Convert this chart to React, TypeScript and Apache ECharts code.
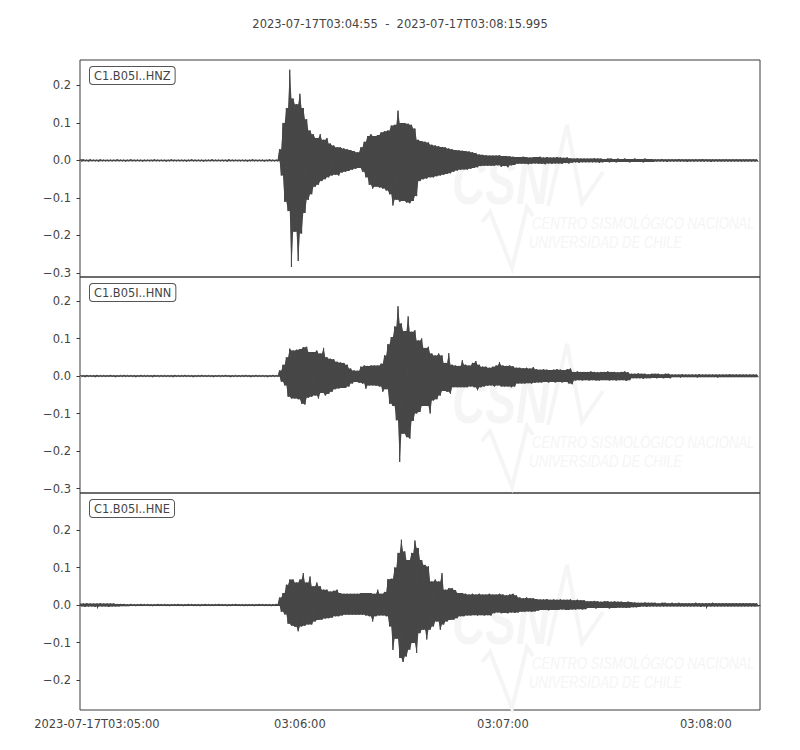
import { useEffect, useRef } from "react";
import * as echarts from "echarts";

const TITLE = "2023-07-17T03:04:55  -  2023-07-17T03:08:15.995";
const CHANNELS = ["C1.B05I..HNZ", "C1.B05I..HNN", "C1.B05I..HNE"];

// seconds after 2023-07-17T03:04:55
const X_MAX = 200.995;
const X_TICKS = [5, 65, 125, 185];
const X_TICK_LABELS = ["2023-07-17T03:05:00", "03:06:00", "03:07:00", "03:08:00"];

const Y_TICKS = [
  [-0.3, -0.2, -0.1, 0, 0.1, 0.2],
  [-0.3, -0.2, -0.1, 0, 0.1, 0.2],
  [-0.2, -0.1, 0, 0.1, 0.2],
];
const Y_MIN = [-0.3107, -0.312, -0.28];
const Y_MAX = [0.268, 0.264, 0.2987];

// envelope per 1-second bin (units of 0.001), read from the record
const HNZ_UP = [
  3, 3, 2, 3, 2, 2, 3, 2, 2, 2,
  2, 3, 2, 2, 2, 3, 2, 2, 2, 2,
  2, 2, 3, 2, 2, 2, 2, 3, 2, 2,
  2, 2, 2, 3, 2, 2, 2, 2, 2, 3,
  2, 2, 2, 2, 3, 2, 2, 2, 2, 2,
  2, 3, 2, 2, 2, 2, 3, 2, 2, 30,
  100, 140, 242, 165, 150, 178, 140, 110, 80, 70,
  60, 70, 55, 60, 45, 40, 35, 35, 32, 30,
  28, 25, 22, 35, 50, 65, 70, 65, 68, 75,
  78, 80, 93, 95, 133, 100, 100, 98, 95, 85,
  55, 52, 50, 48, 42, 40, 38, 36, 35, 32,
  30, 28, 27, 26, 25, 24, 22, 20, 16, 15,
  14, 13, 13, 13, 14, 12, 12, 11, 10, 9,
  9, 10, 9, 8, 9, 9, 10, 8, 9, 8,
  8, 9, 8, 7, 8, 6, 5, 6, 5, 5,
  5, 5, 6, 5, 5, 4, 5, 5, 4, 5,
  4, 5, 4, 4, 5, 4, 4, 5, 4, 4,
  3, 3, 4, 3, 3, 3, 3, 4, 3, 3,
  3, 3, 3, 3, 4, 3, 3, 3, 3, 3,
  3, 3, 3, 3, 3, 3, 3, 3, 3, 3, 3,
];
const HNZ_LO = [
  -3, -2, -3, -2, -2, -3, -2, -2, -2, -2,
  -2, -2, -2, -3, -2, -2, -2, -2, -3, -2,
  -2, -2, -2, -2, -2, -3, -2, -2, -2, -2,
  -2, -3, -2, -2, -2, -2, -3, -2, -2, -2,
  -2, -2, -2, -3, -2, -2, -2, -2, -2, -3,
  -2, -2, -2, -2, -3, -2, -2, -2, -2, -40,
  -110, -135, -284, -190, -268, -195, -140, -105, -90, -70,
  -65, -55, -50, -45, -40, -38, -40, -32, -30, -28,
  -25, -22, -20, -30, -45, -65, -75, -70, -72, -75,
  -80, -90, -120, -105, -110, -108, -112, -114, -108, -95,
  -55, -50, -48, -45, -45, -42, -40, -38, -36, -34,
  -30, -27, -25, -24, -24, -22, -20, -18, -15, -14,
  -14, -14, -14, -13, -17, -15, -18, -13, -12, -9,
  -9, -9, -10, -9, -8, -9, -9, -10, -8, -9,
  -8, -8, -9, -7, -8, -6, -5, -6, -5, -5,
  -5, -5, -5, -6, -5, -4, -5, -4, -5, -4,
  -4, -4, -5, -4, -4, -4, -5, -4, -4, -4,
  -3, -3, -3, -4, -3, -3, -3, -3, -3, -4,
  -3, -3, -3, -3, -3, -3, -4, -3, -3, -3,
  -3, -3, -3, -3, -3, -3, -3, -3, -3, -3, -3,
];

const HNN_UP = [
  3, 2, 3, 2, 2, 3, 2, 2, 2, 3,
  2, 2, 2, 3, 2, 2, 2, 2, 3, 2,
  2, 2, 3, 2, 2, 2, 2, 2, 3, 2,
  2, 3, 2, 2, 2, 2, 3, 2, 2, 2,
  2, 2, 2, 3, 2, 2, 2, 2, 2, 3,
  2, 2, 3, 2, 2, 2, 2, 3, 2, 15,
  30, 50, 73, 68, 70, 72, 77, 78, 64, 64,
  68, 60, 75, 50, 46, 45, 38, 36, 35, 30,
  20, 15, 14, 25, 28, 27, 28, 28, 28, 33,
  55, 85, 104, 132, 186, 140, 120, 159, 118, 122,
  95, 100, 75, 78, 60, 55, 60, 55, 35, 61,
  30, 28, 27, 42, 30, 28, 35, 40, 30, 25,
  25, 22, 25, 28, 37, 28, 27, 28, 26, 22,
  22, 21, 22, 20, 24, 18, 17, 18, 17, 16,
  17, 18, 17, 16, 18, 20, 11, 12, 11, 11,
  11, 12, 11, 10, 11, 11, 12, 11, 11, 10,
  11, 12, 10, 6, 6, 7, 6, 6, 5, 6,
  6, 6, 5, 6, 6, 4, 4, 4, 5, 4,
  4, 4, 4, 5, 4, 4, 4, 4, 4, 4,
  4, 4, 5, 4, 4, 4, 4, 4, 4, 4, 4,
];
const HNN_LO = [
  -2, -3, -2, -2, -3, -2, -2, -2, -2, -2,
  -3, -2, -2, -2, -2, -2, -3, -2, -2, -2,
  -2, -3, -2, -2, -2, -2, -2, -3, -2, -2,
  -2, -2, -2, -3, -2, -2, -2, -2, -2, -3,
  -2, -2, -2, -2, -3, -2, -2, -2, -2, -2,
  -3, -2, -2, -2, -2, -3, -2, -2, -2, -15,
  -25, -55, -60, -60, -62, -74, -76, -58, -55, -52,
  -60, -45, -52, -48, -42, -35, -33, -32, -32, -28,
  -20, -16, -18, -20, -34, -25, -25, -26, -28, -42,
  -35, -74, -80, -118, -229, -154, -163, -167, -120, -100,
  -96, -80, -80, -100, -65, -62, -52, -40, -42, -47,
  -30, -30, -30, -30, -30, -28, -30, -38, -30, -28,
  -26, -25, -28, -25, -28, -28, -28, -30, -28, -20,
  -20, -20, -19, -20, -18, -17, -17, -16, -17, -16,
  -17, -16, -17, -16, -20, -22, -12, -11, -12, -11,
  -12, -11, -12, -12, -11, -11, -12, -11, -12, -11,
  -11, -13, -11, -6, -6, -6, -7, -6, -6, -5,
  -6, -5, -6, -5, -6, -3, -3, -4, -3, -3,
  -3, -3, -4, -3, -3, -3, -3, -3, -4, -3,
  -3, -3, -3, -3, -3, -3, -3, -3, -3, -3, -3,
];

const HNE_UP = [
  4, 4, 5, 4, 4, 4, 5, 4, 4, 4,
  4, 3, 3, 3, 2, 3, 2, 2, 3, 2,
  2, 2, 2, 3, 2, 2, 2, 2, 2, 3,
  2, 2, 3, 2, 2, 2, 2, 3, 2, 2,
  2, 3, 2, 2, 2, 2, 3, 2, 2, 2,
  2, 2, 2, 3, 2, 2, 2, 2, 3, 20,
  32, 54, 68, 68, 60, 68, 85, 60, 76, 50,
  60, 50, 41, 41, 36, 38, 41, 32, 30, 30,
  30, 30, 30, 32, 32, 32, 32, 30, 41, 30,
  35, 69, 70, 100, 139, 174, 143, 120, 139, 172,
  152, 120, 107, 103, 63, 68, 63, 85, 41, 45,
  45, 40, 32, 32, 30, 28, 30, 28, 30, 28,
  28, 30, 28, 28, 30, 28, 26, 28, 30, 26,
  20, 18, 20, 18, 18, 16, 15, 15, 16, 14,
  15, 14, 15, 14, 14, 15, 13, 14, 13, 13,
  10, 10, 11, 10, 9, 10, 10, 9, 10, 9,
  9, 8, 9, 8, 7, 6, 6, 7, 6, 6,
  6, 5, 6, 6, 5, 6, 5, 6, 5, 5,
  5, 5, 6, 5, 5, 5, 5, 6, 5, 5,
  5, 5, 5, 5, 5, 5, 5, 5, 5, 5, 5,
];
const HNE_LO = [
  -4, -5, -4, -4, -5, -4, -4, -4, -5, -4,
  -4, -4, -3, -3, -3, -2, -3, -2, -2, -2,
  -2, -3, -2, -2, -2, -2, -3, -2, -2, -2,
  -3, -2, -2, -2, -2, -3, -2, -2, -2, -2,
  -2, -2, -2, -3, -2, -2, -2, -2, -3, -2,
  -2, -3, -2, -2, -2, -2, -3, -2, -2, -18,
  -25, -50, -55, -58, -70, -57, -55, -52, -52, -44,
  -40, -39, -36, -35, -34, -30, -30, -28, -26, -26,
  -26, -26, -26, -26, -28, -30, -44, -30, -28, -28,
  -30, -57, -120, -90, -141, -152, -137, -119, -101, -128,
  -75, -66, -92, -66, -57, -44, -66, -52, -44, -40,
  -39, -35, -30, -30, -28, -28, -27, -28, -27, -28,
  -27, -28, -22, -20, -22, -21, -22, -20, -21, -20,
  -18, -18, -17, -18, -17, -15, -13, -13, -14, -13,
  -13, -13, -12, -13, -13, -12, -12, -11, -12, -11,
  -8, -8, -9, -8, -8, -8, -9, -8, -8, -7,
  -7, -8, -7, -6, -6, -5, -4, -5, -4, -4,
  -4, -4, -4, -4, -4, -4, -4, -4, -4, -4,
  -4, -4, -4, -5, -4, -4, -4, -4, -4, -4,
  -4, -4, -4, -4, -4, -4, -4, -4, -4, -4, -4,
];

const TRACES = [
  [HNZ_UP, HNZ_LO],
  [HNN_UP, HNN_LO],
  [HNE_UP, HNE_LO],
];

const FONT = "DejaVu Sans";
const TEXT = "#444444";
const FRAME = "#3a3a3a";
const WAVE = "#474747";
const WM = "#f5f5f5";

const GRID_TOPS = [60, 277, 493];
const GRID_HEIGHTS = [217, 216, 217];
const WM_OFFSETS = [0, 219, 440];

// each 1-second bin is drawn as one swing between its read extremes
function buildTrace(up: number[], lo: number[]): [number, number][] {
  const pts: [number, number][] = [];
  for (let i = 0; i < up.length; i++) {
    pts.push([i, up[i] / 1000]);
    pts.push([i + 0.5, lo[i] / 1000]);
  }
  return pts;
}

function yLabel(v: number): string {
  if (Math.abs(v) < 1e-9) return "0.0";
  return v.toFixed(1).replace("-", "\u2212");
}

function watermark(dy: number): any[] {
  return [
    {
      type: "text",
      z: 1,
      silent: true,
      x: 452,
      y: 150 + dy,
      scaleX: 0.72,
      style: {
        text: "CSN",
        font: "italic bold 64px 'Liberation Sans'",
        fill: WM,
        verticalAlign: "top",
      },
    },
    {
      type: "polyline",
      z: 1,
      silent: true,
      shape: { points: [[548, 206 + dy], [567, 125 + dy], [582, 203 + dy], [603, 172 + dy]] },
      style: { stroke: WM, lineWidth: 4, fill: null },
    },
    {
      type: "polyline",
      z: 1,
      silent: true,
      shape: { points: [[482, 222 + dy], [490, 212 + dy], [512, 268 + dy], [527, 207 + dy], [533, 216 + dy]] },
      style: { stroke: WM, lineWidth: 4, fill: null },
    },
    {
      type: "text",
      z: 1,
      silent: true,
      x: 532,
      y: 214 + dy,
      scaleX: 0.77,
      style: {
        text: "CENTRO SISMOLÓGICO NACIONAL",
        font: "italic 17px 'Liberation Sans'",
        fill: WM,
        verticalAlign: "top",
      },
    },
    {
      type: "text",
      z: 1,
      silent: true,
      x: 529,
      y: 233 + dy,
      scaleX: 0.77,
      style: {
        text: "UNIVERSIDAD DE CHILE",
        font: "italic 17px 'Liberation Sans'",
        fill: WM,
        verticalAlign: "top",
      },
    },
  ];
}

export default function App() {
  const ref = useRef<HTMLDivElement>(null);

  useEffect(() => {
    if (!ref.current) return;
    const chart = echarts.init(ref.current, undefined, { renderer: "svg" });

    const grids = GRID_TOPS.map((top, i) => ({
      left: 80,
      top,
      width: 680,
      height: GRID_HEIGHTS[i],
      show: true,
      borderColor: FRAME,
      borderWidth: 1,
      backgroundColor: "transparent",
      containLabel: false,
    }));

    const xAxes = GRID_TOPS.map((_, i) => {
      const last = i === GRID_TOPS.length - 1;
      return {
        type: "value",
        gridIndex: i,
        min: 0,
        max: X_MAX,
        axisLine: { show: last, lineStyle: { color: FRAME, width: 1 } },
        splitLine: { show: false },
        axisTick: {
          show: last,
          customValues: X_TICKS,
          length: 3.5,
          lineStyle: { color: FRAME, width: 1 },
        },
        axisLabel: {
          show: last,
          customValues: X_TICKS,
          margin: 8,
          color: TEXT,
          fontFamily: FONT,
          fontSize: 11.5,
          formatter: (v: number) => {
            const k = X_TICKS.indexOf(Math.round(v));
            return k >= 0 ? X_TICK_LABELS[k] : "";
          },
        },
      };
    });

    const yAxes = GRID_TOPS.map((_, i) => ({
      type: "value",
      gridIndex: i,
      min: Y_MIN[i],
      max: Y_MAX[i],
      axisLine: { show: false },
      splitLine: { show: false },
      axisTick: {
        show: true,
        customValues: Y_TICKS[i],
        length: 3.5,
        lineStyle: { color: FRAME, width: 1 },
      },
      axisLabel: {
        show: true,
        customValues: Y_TICKS[i],
        margin: 9,
        color: TEXT,
        fontFamily: FONT,
        fontSize: 11.5,
        formatter: (v: number) => yLabel(v),
      },
    }));

    const series: any[] = [];
    TRACES.forEach(([up, lo], i) => {
      const pts = buildTrace(up, lo);
      // filled body of the trace, through the axis scale; between two bins the
      // outline dips to the smaller of the two read extremes so peaks stay narrow
      series.push({
        type: "custom",
        xAxisIndex: i,
        yAxisIndex: i,
        silent: true,
        clip: true,
        z: 2,
        data: [[0, 0]],
        encode: { x: 0, y: 1 },
        renderItem: (_params: any, api: any) => {
          const upper: number[][] = [];
          const lower: number[][] = [];
          const n = up.length;
          for (let k = 0; k < n; k++) {
            upper.push(api.coord([k, up[k] / 1000]));
            if (k < n - 1) {
              upper.push(api.coord([k + 0.5, Math.min(up[k], up[k + 1]) / 1000]));
            }
            lower.push(api.coord([k + 0.5, lo[k] / 1000]));
            if (k < n - 1) {
              lower.push(api.coord([k + 1, Math.max(lo[k], lo[k + 1]) / 1000]));
            }
          }
          return {
            type: "polygon",
            shape: { points: upper.concat(lower.reverse()) },
            style: { fill: WAVE, stroke: null },
          };
        },
      });
      // oscillation outline
      series.push({
        type: "line",
        xAxisIndex: i,
        yAxisIndex: i,
        data: pts,
        symbol: "none",
        showSymbol: false,
        silent: true,
        z: 3,
        lineStyle: { color: WAVE, width: 1 },
      });
    });

    const labels = CHANNELS.map((name, i) => ({
      type: "text",
      z: 20,
      silent: true,
      x: 90,
      y: GRID_TOPS[i] + 7,
      style: {
        text: name,
        font: `11.4px '${FONT}'`,
        fill: TEXT,
        verticalAlign: "top",
        backgroundColor: "#ffffff",
        borderColor: "#555555",
        borderWidth: 1,
        borderRadius: 3,
        padding: [3, 4, 3, 4],
      },
    }));

    const graphics: any[] = [];
    WM_OFFSETS.forEach((dy) => graphics.push(...watermark(dy)));
    graphics.push(...labels);

    chart.setOption({
      animation: false,
      backgroundColor: "#ffffff",
      title: {
        text: TITLE,
        left: "center",
        top: 13,
        textStyle: {
          fontFamily: FONT,
          fontSize: 11.5,
          fontWeight: "normal",
          color: TEXT,
        },
      },
      grid: grids,
      xAxis: xAxes,
      yAxis: yAxes,
      series,
      graphic: graphics,
    });

    return () => chart.dispose();
  }, []);

  return (
    <div
      ref={ref}
      style={{ position: "fixed", left: 0, top: 0, width: 800, height: 750 }}
    />
  );
}
